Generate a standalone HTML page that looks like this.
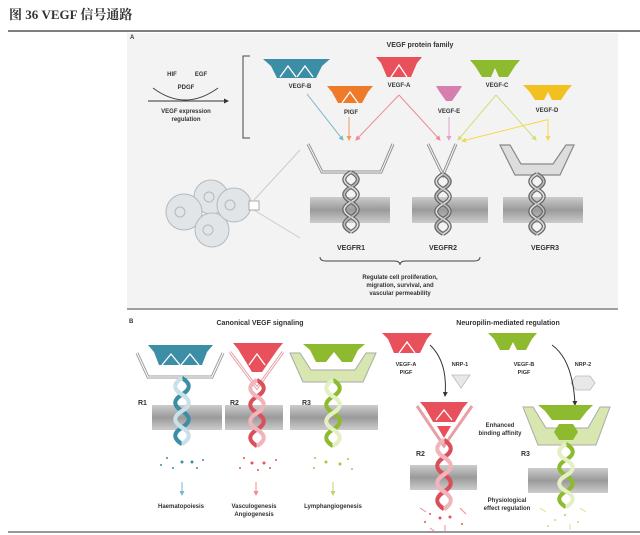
<!DOCTYPE html>
<html><head><meta charset="utf-8"><style>
body{margin:0;background:#fff;width:640px;height:535px;overflow:hidden}
svg{display:block}
text{font-family:"Liberation Sans",sans-serif;font-weight:bold;fill:#333}
</style></head><body>
<svg width="640" height="535" viewBox="0 0 640 535" xmlns="http://www.w3.org/2000/svg">
<defs>
<g id="hx">
<path d="M0,0 C9,5 9,10 0,15 C-9,20 -9,25 0,30 C9,35 9,40 0,45 C-9,50 -9,55 0,60" fill="none" stroke="#666" stroke-width="4"/>
<path d="M0,0 C-9,5 -9,10 0,15 C9,20 9,25 0,30 C-9,35 -9,40 0,45 C9,50 9,55 0,60" fill="none" stroke="#666" stroke-width="4"/>
<path d="M0,0 C-9,5 -9,10 0,15 C9,20 9,25 0,30 C-9,35 -9,40 0,45 C9,50 9,55 0,60" fill="none" stroke="#ddd" stroke-width="1.6"/>
<path d="M0,0 C9,5 9,10 0,15 C-9,20 -9,25 0,30 C9,35 9,40 0,45 C-9,50 -9,55 0,60" fill="none" stroke="#bbb" stroke-width="1.6"/>
</g>
<linearGradient id="mem" x1="0" y1="0" x2="0" y2="1"><stop offset="0" stop-color="#ccc"/><stop offset=".5" stop-color="#9a9a9a"/><stop offset="1" stop-color="#ccc"/></linearGradient>
<marker id="ar" viewBox="0 0 10 10" refX="8" refY="5" markerWidth="5" markerHeight="5" orient="auto"><path d="M0,0 L10,5 L0,10z" fill="context-stroke"/></marker>
<marker id="ak" viewBox="0 0 10 10" refX="8" refY="5" markerWidth="5" markerHeight="5" orient="auto"><path d="M0,0 L10,5 L0,10z" fill="#333"/></marker>
</defs>

<text x="9" y="19" font-size="13" style="font-family:'Liberation Serif','Noto Serif CJK SC',serif" fill="#222">图  36 VEGF 信号通路</text>
<line x1="8" y1="31" x2="640" y2="31" stroke="#555" stroke-width="1.5"/>
<line x1="8" y1="532" x2="640" y2="532" stroke="#777" stroke-width="1.5"/>

<rect x="127" y="33" width="491" height="275" fill="#f3f3f3"/>
<line x1="127" y1="309" x2="618" y2="309" stroke="#666" stroke-width="1.2"/>
<text x="130" y="39" font-size="6">A</text>
<text x="420" y="47" font-size="7" text-anchor="middle">VEGF protein family</text>
<text x="172" y="76" font-size="6" text-anchor="middle" font-weight="normal">HIF</text>
<text x="201" y="76" font-size="6" text-anchor="middle" font-weight="normal">EGF</text>
<text x="186" y="89" font-size="6" text-anchor="middle" font-weight="normal">PDGF</text>
<path d="M153,88 Q185,112 218,88" fill="none" stroke="#444" stroke-width="1"/>
<line x1="148" y1="101" x2="228" y2="101" stroke="#333" stroke-width="1" marker-end="url(#ak)"/>
<text x="186" y="113" font-size="6" text-anchor="middle">VEGF expression</text>
<text x="186" y="121" font-size="6" text-anchor="middle">regulation</text>
<path d="M250,56 H243 V138 H250" fill="none" stroke="#444" stroke-width="1"/>

<polygon points="263,59 330,59 322,66 316,78 277,78 271,66" fill="#3b8ea5"/>
<path d="M280,77 L288,66 L296,77 M297,77 L305,66 L313,77" fill="none" stroke="#fff" stroke-width="1.3"/>
<text x="300" y="88" font-size="6" text-anchor="middle">VEGF-B</text>
<polygon points="327,86 373,86 368,92 362,103 338,103 332,92" fill="#ef7a2a"/>
<path d="M342,103 L350,92 L358,103" fill="none" stroke="#fff" stroke-width="1.3"/>
<text x="351" y="114" font-size="6" text-anchor="middle">PlGF</text>
<polygon points="376,57 422,57 417,63 411,77 387,77 381,63" fill="#e8505b"/>
<path d="M391,77 L399,65 L407,77" fill="none" stroke="#fff" stroke-width="1.3"/>
<text x="399" y="87" font-size="6" text-anchor="middle">VEGF-A</text>
<polygon points="436,86 462,86 459,91 452,101 446,101 439,91" fill="#d57fae"/>
<text x="449" y="113" font-size="6" text-anchor="middle">VEGF-E</text>
<polygon points="470,60 520,60 515,66 508,77 499,77 495,68 491,77 482,77 475,66" fill="#8dba2e"/>
<text x="497" y="87" font-size="6" text-anchor="middle">VEGF-C</text>
<polygon points="523,85 572,85 567,91 561,100 552,100 548,92 544,100 535,100 529,91" fill="#f3c11f"/>
<text x="547" y="112" font-size="6" text-anchor="middle">VEGF-D</text>

<line x1="307" y1="94" x2="343" y2="140" stroke="#7ab6cc" stroke-width="1" marker-end="url(#ar)"/>
<line x1="349" y1="117" x2="349" y2="140" stroke="#f19a5a" stroke-width="1" marker-end="url(#ar)"/>
<line x1="399" y1="95" x2="356" y2="140" stroke="#f08a90" stroke-width="1" marker-end="url(#ar)"/>
<line x1="399" y1="95" x2="440" y2="140" stroke="#f08a90" stroke-width="1" marker-end="url(#ar)"/>
<line x1="449" y1="117" x2="449" y2="140" stroke="#e0a0c8" stroke-width="1" marker-end="url(#ar)"/>
<line x1="496" y1="95" x2="458" y2="140" stroke="#cfe07a" stroke-width="1" marker-end="url(#ar)"/>
<line x1="496" y1="95" x2="536" y2="140" stroke="#cfe07a" stroke-width="1" marker-end="url(#ar)"/>
<path d="M545,120 H548 V140" fill="none" stroke="#f3d94a" stroke-width="1" marker-end="url(#ar)"/>
<line x1="546" y1="120" x2="462" y2="141" stroke="#f3d94a" stroke-width="1" marker-end="url(#ar)"/>

<line x1="254" y1="200" x2="300" y2="150" stroke="#ccc" stroke-width="1"/>
<line x1="254" y1="210" x2="300" y2="238" stroke="#ccc" stroke-width="1"/>
<g fill="#e2e5e7" stroke="#b5b9bc" stroke-width="1">
<circle cx="211" cy="197" r="17"/>
<circle cx="184" cy="212" r="18"/>
<circle cx="212" cy="230" r="17"/>
<circle cx="234" cy="205" r="17"/>
</g>
<g fill="none" stroke="#b5b9bc"><circle cx="180" cy="212" r="5"/><circle cx="209" cy="197" r="5"/><circle cx="230" cy="205" r="5"/><circle cx="208" cy="230" r="5"/></g>
<rect x="249" y="201" width="10" height="9" fill="#fff" stroke="#999" stroke-width=".8"/>

<rect x="310" y="197" width="80" height="26" fill="url(#mem)"/>
<rect x="412" y="197" width="76" height="26" fill="url(#mem)"/>
<rect x="503" y="197" width="80" height="26" fill="url(#mem)"/>
<path d="M308,144 L322,172 H381 L393,144" fill="none" stroke="#888" stroke-width="3"/>
<path d="M308,144 L322,172 H381 L393,144" fill="none" stroke="#eee" stroke-width="1.3"/>
<use href="#hx" x="351" y="172"/>
<path d="M428,144 L443,175 L456,144" fill="none" stroke="#888" stroke-width="3"/>
<path d="M428,144 L443,175 L456,144" fill="none" stroke="#eee" stroke-width="1.3"/>
<use href="#hx" x="443" y="174"/>
<polygon points="500,145 510,145 521,164 553,164 566,145 574,145 560,175 515,175" fill="#ddd" stroke="#888" stroke-width="1.2"/>
<use href="#hx" x="537" y="174"/>
<text x="351" y="250" font-size="7" text-anchor="middle">VEGFR1</text>
<text x="443" y="250" font-size="7" text-anchor="middle">VEGFR2</text>
<text x="545" y="250" font-size="7" text-anchor="middle">VEGFR3</text>
<path d="M320,257 Q320,261 326,261 H394 Q400,261 400,265 Q400,261 406,261 H474 Q480,261 480,257" fill="none" stroke="#444" stroke-width=".9"/>
<text x="400" y="279" font-size="6" text-anchor="middle">Regulate cell proliferation,</text>
<text x="400" y="287" font-size="6" text-anchor="middle">migration, survival, and</text>
<text x="400" y="295" font-size="6" text-anchor="middle">vascular permeability</text>

<text x="129" y="323" font-size="6">B</text>
<text x="260" y="325" font-size="7" text-anchor="middle">Canonical VEGF signaling</text>
<text x="508" y="325" font-size="7" text-anchor="middle">Neuropilin-mediated regulation</text>

<rect x="152" y="405" width="70" height="25" fill="url(#mem)"/>
<rect x="225" y="405" width="58" height="25" fill="url(#mem)"/>
<rect x="290" y="405" width="88" height="25" fill="url(#mem)"/>
<rect x="410" y="465" width="67" height="25" fill="url(#mem)"/>
<rect x="528" y="468" width="80" height="25" fill="url(#mem)"/>

<path d="M137,353 L148,377 H212 L223,353" fill="none" stroke="#999" stroke-width="3"/>
<path d="M137,353 L148,377 H212 L223,353" fill="none" stroke="#f5f5f5" stroke-width="1.3"/>
<polygon points="148,345 213,345 207,352 202,365 159,365 154,352" fill="#3b8ea5"/>
<path d="M162,365 L171,354 L180,365 M181,365 L190,354 L199,365" fill="none" stroke="#fff" stroke-width="1.3"/>
<g transform="translate(182,378) scale(1,1.1)"><path d="M0,0 C9,5 9,10 0,15 C-9,20 -9,25 0,30 C9,35 9,40 0,45 C-9,50 -9,55 0,60" fill="none" stroke="#3b8ea5" stroke-width="4"/><path d="M0,0 C-9,5 -9,10 0,15 C9,20 9,25 0,30 C-9,35 -9,40 0,45 C9,50 9,55 0,60" fill="none" stroke="#c8e0ea" stroke-width="4"/></g>
<text x="138" y="405" font-size="7">R1</text>
<g fill="#3b8ea5"><circle cx="167" cy="458" r="1"/><circle cx="182" cy="462" r="1.5"/><circle cx="192" cy="462" r="1.5"/><circle cx="173" cy="468" r="1"/><circle cx="197" cy="468" r="1"/><circle cx="203" cy="460" r="1"/><circle cx="161" cy="465" r="1"/></g>
<line x1="182" y1="482" x2="182" y2="495" stroke="#7ab6cc" stroke-width="1" marker-end="url(#ar)"/>
<text x="181" y="508" font-size="6" text-anchor="middle">Haematopoiesis</text>

<path d="M230,352 L257,388 L283,352" fill="none" stroke="#e8a0a8" stroke-width="3"/>
<path d="M230,352 L257,388 L283,352" fill="none" stroke="#fff" stroke-width="1"/>
<polygon points="233,343 283,343 278,349 262,372 252,372 238,349" fill="#e8505b"/>
<path d="M249,365 L257,354 L265,365" fill="none" stroke="#fff" stroke-width="1.3"/>
<g transform="translate(257,380) scale(1,1.1)"><path d="M0,0 C9,5 9,10 0,15 C-9,20 -9,25 0,30 C9,35 9,40 0,45 C-9,50 -9,55 0,60" fill="none" stroke="#d9505b" stroke-width="4"/><path d="M0,0 C-9,5 -9,10 0,15 C9,20 9,25 0,30 C-9,35 -9,40 0,45 C9,50 9,55 0,60" fill="none" stroke="#f2b4bb" stroke-width="4"/></g>
<text x="230" y="405" font-size="7">R2</text>
<g fill="#e8505b"><circle cx="244" cy="458" r="1"/><circle cx="252" cy="463" r="1.5"/><circle cx="264" cy="463" r="1.5"/><circle cx="240" cy="468" r="1"/><circle cx="270" cy="468" r="1"/><circle cx="276" cy="460" r="1"/><circle cx="258" cy="470" r="1"/></g>
<line x1="256" y1="482" x2="256" y2="495" stroke="#f08a90" stroke-width="1" marker-end="url(#ar)"/>
<text x="254" y="508" font-size="6" text-anchor="middle">Vasculogenesis</text>
<text x="254" y="516" font-size="6" text-anchor="middle">Angiogenesis</text>

<polygon points="290,353 300,353 311,370 355,370 366,353 376,353 363,382 303,382" fill="#d8e7b0" stroke="#aaa" stroke-width="1"/>
<polygon points="303,344 365,344 358,350 352,362 342,362 334,352 326,362 316,362 310,350" fill="#8dba2e"/>
<g transform="translate(333,380) scale(1,1.1)"><path d="M0,0 C9,5 9,10 0,15 C-9,20 -9,25 0,30 C9,35 9,40 0,45 C-9,50 -9,55 0,60" fill="none" stroke="#8dba2e" stroke-width="4"/><path d="M0,0 C-9,5 -9,10 0,15 C9,20 9,25 0,30 C-9,35 -9,40 0,45 C9,50 9,55 0,60" fill="none" stroke="#e4efc4" stroke-width="4"/></g>
<text x="302" y="405" font-size="7">R3</text>
<g fill="#a8c83c"><circle cx="315" cy="458" r="1"/><circle cx="326" cy="462" r="1.5"/><circle cx="340" cy="464" r="1.5"/><circle cx="314" cy="468" r="1"/><circle cx="352" cy="469" r="1"/><circle cx="348" cy="459" r="1"/></g>
<line x1="333" y1="482" x2="333" y2="495" stroke="#bcd66a" stroke-width="1" marker-end="url(#ar)"/>
<text x="333" y="508" font-size="6" text-anchor="middle">Lymphangiogenesis</text>

<polygon points="382,333 432,333 427,339 420,353 394,353 388,339" fill="#e8505b"/>
<path d="M399,353 L407,342 L415,353" fill="none" stroke="#fff" stroke-width="1.3"/>
<text x="406" y="366" font-size="5.5" text-anchor="middle" font-weight="normal">VEGF-A</text>
<text x="406" y="374" font-size="5.5" text-anchor="middle" font-weight="normal">PlGF</text>
<text x="460" y="366" font-size="5.5" text-anchor="middle" font-weight="normal">NRP-1</text>
<polygon points="452,375 470,375 461,388" fill="#e8e8e8" stroke="#bbb" stroke-width=".8"/>
<path d="M430,345 Q448,362 445,396" fill="none" stroke="#333" stroke-width="1" marker-end="url(#ak)"/>
<path d="M417,406 L444,446 L472,406" fill="none" stroke="#e8a0a8" stroke-width="3"/>
<polygon points="420,402 468,402 463,408 455,422 433,422 425,408" fill="#e8505b"/>
<path d="M436,420 L444,410 L452,420" fill="none" stroke="#fff" stroke-width="1.3"/>
<polygon points="437,426 451,426 444,438" fill="#e8505b"/>
<g transform="translate(444,440) scale(1,1.15)"><path d="M0,0 C9,5 9,10 0,15 C-9,20 -9,25 0,30 C9,35 9,40 0,45 C-9,50 -9,55 0,60" fill="none" stroke="#d9505b" stroke-width="4"/><path d="M0,0 C-9,5 -9,10 0,15 C9,20 9,25 0,30 C-9,35 -9,40 0,45 C9,50 9,55 0,60" fill="none" stroke="#f2b4bb" stroke-width="4"/></g>
<text x="500" y="427" font-size="6" text-anchor="middle">Enhanced</text>
<text x="500" y="435" font-size="6" text-anchor="middle">binding affinity</text>
<text x="416" y="456" font-size="7">R2</text>
<g fill="#e8505b"><circle cx="430" cy="514" r="1"/><circle cx="440" cy="518" r="1.5"/><circle cx="450" cy="517" r="1.5"/><circle cx="425" cy="522" r="1"/><circle cx="462" cy="524" r="1"/></g>
<g stroke="#f08a90" stroke-width="1"><line x1="420" y1="508" x2="426" y2="512"/><line x1="460" y1="508" x2="466" y2="514"/><line x1="445" y1="525" x2="445" y2="531"/><line x1="430" y1="528" x2="434" y2="531"/></g>

<polygon points="488,333 537,333 532,339 526,350 517,350 513,342 509,350 500,350 494,339" fill="#8dba2e"/>
<text x="524" y="366" font-size="5.5" text-anchor="middle" font-weight="normal">VEGF-B</text>
<text x="524" y="374" font-size="5.5" text-anchor="middle" font-weight="normal">PlGF</text>
<text x="583" y="366" font-size="5.5" text-anchor="middle" font-weight="normal">NRP-2</text>
<polygon points="576,376 590,376 595,383 590,390 576,390 571,383" fill="#e8e8e8" stroke="#bbb" stroke-width=".8"/>
<path d="M552,345 Q573,360 575,405" fill="none" stroke="#333" stroke-width="1" marker-end="url(#ak)"/>
<polygon points="523,407 533,407 546,428 588,428 600,407 610,407 596,445 538,445" fill="#d8e7b0" stroke="#aaa" stroke-width="1"/>
<polygon points="538,405 593,405 587,411 580,420 552,420 545,411" fill="#8dba2e"/>
<polygon points="559,424 573,424 578,432 573,440 559,440 554,432" fill="#8dba2e"/>
<g transform="translate(566,444) scale(1,1.05)"><path d="M0,0 C9,5 9,10 0,15 C-9,20 -9,25 0,30 C9,35 9,40 0,45 C-9,50 -9,55 0,60" fill="none" stroke="#8dba2e" stroke-width="4"/><path d="M0,0 C-9,5 -9,10 0,15 C9,20 9,25 0,30 C-9,35 -9,40 0,45 C9,50 9,55 0,60" fill="none" stroke="#e4efc4" stroke-width="4"/></g>
<text x="521" y="456" font-size="7">R3</text>
<text x="507" y="502" font-size="6" text-anchor="middle">Physiological</text>
<text x="507" y="510" font-size="6" text-anchor="middle">effect regulation</text>
<g fill="#c7dc80"><circle cx="555" cy="520" r="1"/><circle cx="565" cy="515" r="1.2"/><circle cx="578" cy="522" r="1"/><circle cx="548" cy="526" r="1"/></g>
<g stroke="#d3e39a" stroke-width="1"><line x1="540" y1="508" x2="546" y2="512"/><line x1="580" y1="508" x2="586" y2="512"/><line x1="570" y1="524" x2="570" y2="530"/></g>
</svg>
</body></html>
